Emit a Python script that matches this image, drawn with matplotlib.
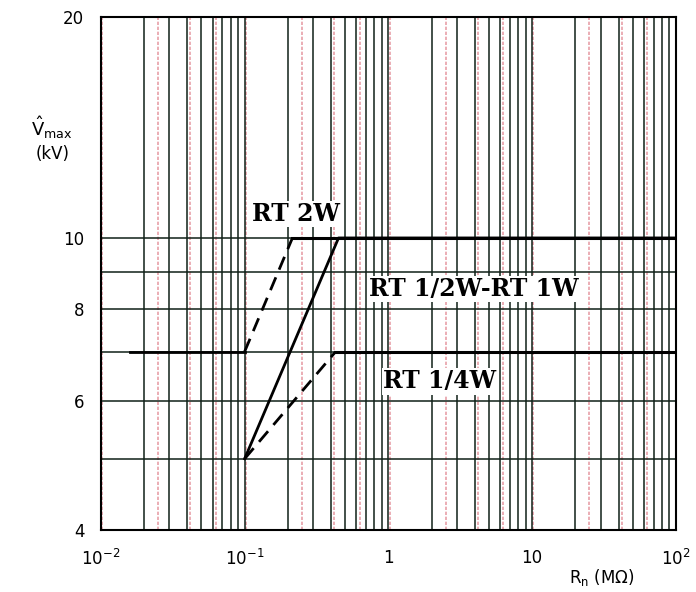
import matplotlib
matplotlib.use("Agg")
import matplotlib.pyplot as plt
import numpy as np

# curve data (R in MOhm, V in kV)
rt2w_r = [0.016, 0.1, 0.215, 100]
rt2w_v = [7.0, 7.0, 10.0, 10.0]
rt12w_r = [0.1, 0.45, 100]
rt12w_v = [5.0, 10.0, 10.0]
rt14w_r = [0.1, 0.43, 100]
rt14w_v = [5.0, 7.0, 7.0]

x_ticks = [1e-2, 1e-1, 1, 10, 100]
x_labels = [r"10$^{-2}$", r"10$^{-1}$", "1", "10", r"10$^{2}$"]
y_ticks = [4, 6, 8, 10, 20]
y_labels = ["4", "6", "8", "10", "20"]
h_grid = [5, 6, 7, 8, 9, 10]
minor_mult = [2, 3, 4, 5, 6, 7, 8, 9]
pink_mult = [1.02, 2.5, 4.2, 6.3]

fig = plt.figure(figsize=(6.96, 5.92), dpi=100)
ax = fig.add_axes([0.145, 0.105, 0.826, 0.866])
ax.set_xscale("log")
ax.set_yscale("log")
ax.set_xlim(1e-2, 1e2)
ax.set_ylim(4, 20)

### grid, scanned-paper look
for dec in [1e-2, 1e-1, 1, 10]:
    for m in pink_mult:
        ax.axvline(dec * m, color="#e8a0a8", lw=1.2, ls=(0, (2, 1)), zorder=1)
    for m in [1] + minor_mult:
        ax.axvline(dec * m, color="#102018", lw=1.1, zorder=2)
for v in h_grid:
    ax.axhline(v, color="#102018", lw=1.1, zorder=2)

### curves
ax.plot(rt2w_r[1:3], rt2w_v[1:3], color="black", lw=2, ls=(0, (5, 3)), zorder=4)
ax.plot(rt2w_r[2:], rt2w_v[2:], color="black", lw=2.2, zorder=4)
ax.plot(rt2w_r[:2], rt2w_v[:2], color="black", lw=2.0, zorder=4)
ax.plot(rt12w_r, rt12w_v, color="black", lw=2, zorder=4)
ax.plot(rt14w_r[:2], rt14w_v[:2], color="black", lw=2, ls=(0, (5, 3)), zorder=4)
ax.plot(rt14w_r[1:], rt14w_v[1:], color="black", lw=2.2, zorder=4)

lab = dict(family="DejaVu Serif", fontweight="bold", fontsize=17, zorder=5)
box = dict(facecolor="white", edgecolor="none", pad=1)
ax.text(0.227, 10.78, "RT 2W", ha="center", va="center", bbox=box, **lab)
ax.text(3.94, 8.52, "RT 1/2W-RT 1W", ha="center", va="center", bbox=box, **lab)
ax.text(2.28, 6.38, "RT 1/4W", ha="center", va="center", bbox=box, **lab)

ax.set_xticks(x_ticks)
ax.set_xticklabels(x_labels)
ax.set_yticks(y_ticks)
ax.set_yticklabels(y_labels)
ax.minorticks_off()
ax.tick_params(axis="x", length=0, labelsize=12, pad=14)
ax.tick_params(axis="y", length=0, labelsize=12, pad=12)
for s in ax.spines.values():
    s.set_linewidth(1.5)

fig.text(0.075, 0.785, r"$\hat{\rm V}_{\rm max}$", fontsize=13, ha="center", va="center")
fig.text(0.075, 0.74, "(kV)", fontsize=12, ha="center", va="center")
fig.text(0.865, 0.025, r"R$_{\rm n}$ (M$\Omega$)", fontsize=12, ha="center", va="center")

fig.savefig("out.png", dpi=100, facecolor="white")
